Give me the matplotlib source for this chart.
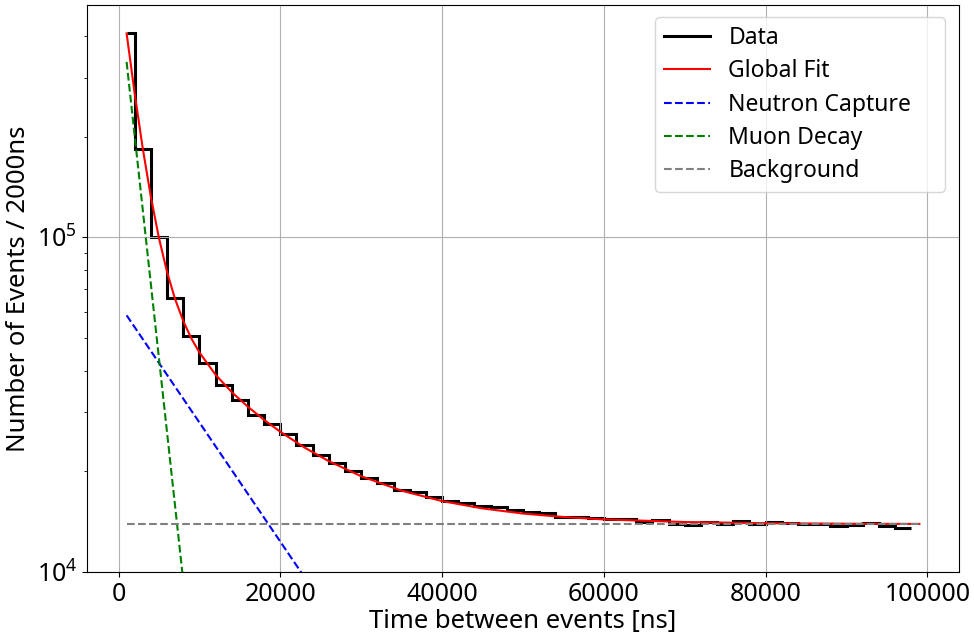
import numpy as np
import matplotlib.pyplot as plt

plt.rcParams['font.family'] = ['Noto Sans', 'DejaVu Sans']
plt.rcParams['font.size'] = 18

# histogram of time between events, 2000 ns bins (first bin is half width)
bin_edges = [1000] + list(range(2000, 100000, 2000))
counts = [4.07e5, 1.84e5, 1.00e5, 6.60e4, 5.07e4, 4.20e4, 3.63e4, 3.26e4, 2.95e4, 2.765e4,
          2.58e4, 2.39e4, 2.23e4, 2.11e4, 2.00e4, 1.91e4, 1.85e4, 1.764e4, 1.74e4, 1.67e4,
          1.631e4, 1.61e4, 1.572e4, 1.565e4, 1.537e4, 1.511e4, 1.50e4, 1.46e4, 1.46e4, 1.455e4,
          1.444e4, 1.438e4, 1.408e4, 1.43e4, 1.39e4, 1.38e4, 1.415e4, 1.39e4, 1.42e4, 1.39e4,
          1.41e4, 1.40e4, 1.39e4, 1.39e4, 1.37e4, 1.385e4, 1.40e4, 1.37e4, 1.354e4]

# global fit curve
fit_t = [1000, 2000, 3000, 4000, 5000, 6000, 7000, 8000, 9000, 10000, 12000, 14000,
         16000, 18000, 20000, 23000, 26000, 30000, 35000, 40000, 45000, 50000, 55000,
         60000, 70000, 80000, 90000, 99000]
fit_y = [4.070e5, 2.687e5, 1.842e5, 1.321e5, 9.95e4, 7.88e4, 6.53e4, 5.63e4, 4.99e4,
         4.53e4, 3.885e4, 3.448e4, 3.117e4, 2.848e4, 2.625e4, 2.354e4, 2.144e4, 1.933e4,
         1.750e4, 1.629e4, 1.549e4, 1.495e4, 1.460e4, 1.436e4, 1.4105e4, 1.399e4,
         1.394e4, 1.392e4]

# fit components (straight lines on the log axis)
neutron_t = [1000, 25000]
neutron_y = [5.85e4, 8.18e3]
muon_t = [1000, 9000]
muon_y = [3.346e5, 5.65e3]
bkg_t = [1000, 99000]
bkg_y = [1.39e4, 1.39e4]

fig = plt.figure(figsize=(9.74, 6.34), dpi=100)
ax = fig.add_axes([0.0893, 0.0978, 0.8953, 0.8943])

ax.stairs(counts, bin_edges, baseline=None, color='black', linewidth=2.2, label='Data')
ax.plot(fit_t, fit_y, color='red', linewidth=1.5, label='Global Fit')
ax.plot(neutron_t, neutron_y, '--', color='blue', linewidth=1.5, label='Neutron Capture')
ax.plot(muon_t, muon_y, '--', color='green', linewidth=1.5, label='Muon Decay')
ax.plot(bkg_t, bkg_y, '--', color='gray', linewidth=1.5, label='Background')

ax.set_yscale('log')
ax.set_xlim(-3900, 103900)
ax.set_ylim(1e4, 4.95e5)
ax.set_xlabel('Time between events [ns]', fontsize=18.5, labelpad=2)
ax.set_ylabel('Number of Events / 2000ns', fontsize=18.5)
ax.grid(True)
ax.legend(loc='upper right', fontsize=16.5, labelspacing=0.4, mode='expand',
          borderaxespad=0, bbox_to_anchor=(0.6514, 0.5, 0.3325, 0.4788))

fig.savefig('out.png', dpi=100)
